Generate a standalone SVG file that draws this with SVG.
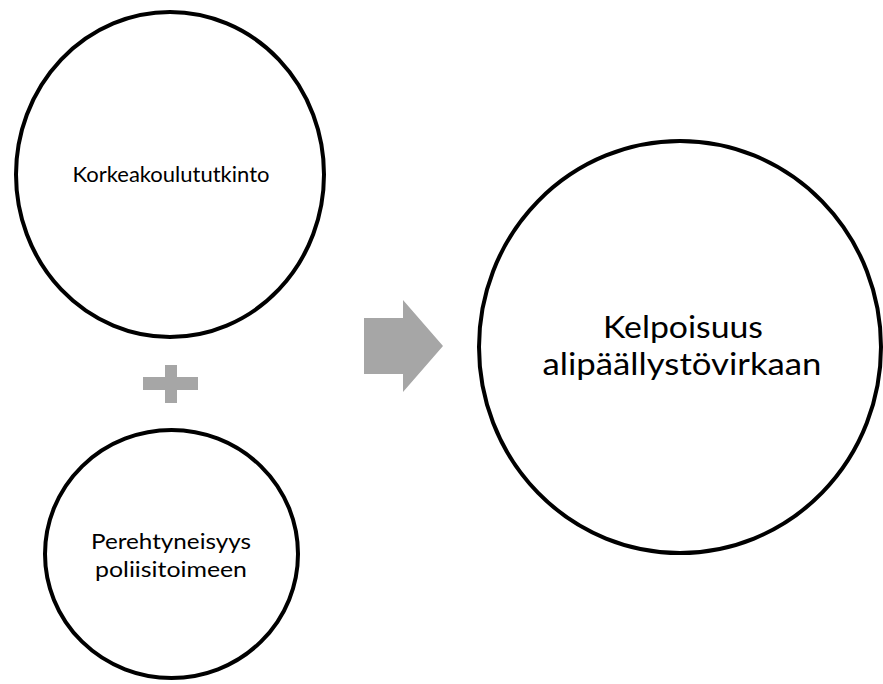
<svg xmlns="http://www.w3.org/2000/svg" width="883" height="684" viewBox="0 0 883 684">
  <style>
    .node { fill: #ffffff; stroke: #000000; stroke-width: 4; }
    .label { font-family: Lato, "Open Sans", "Liberation Sans", sans-serif; fill: #000000; text-anchor: middle; }
    .small { font-size: 22px; }
    .large { font-size: 31px; }
    .sym { fill: #a6a6a6; stroke: none; }
  </style>
  <rect width="883" height="684" fill="#ffffff"/>

  <g id="degree">
    <ellipse class="node" cx="170" cy="174.5" rx="154" ry="162.5"/>
    <text class="label small" x="171" y="181.5" textLength="197" lengthAdjust="spacingAndGlyphs">Korkeakoulututkinto</text>
  </g>

  <g id="familiarity">
    <ellipse class="node" cx="171.5" cy="554" rx="126.5" ry="124"/>
    <text class="label small" x="171" y="549" textLength="160" lengthAdjust="spacingAndGlyphs">Perehtyneisyys</text>
    <text class="label small" x="171" y="577" textLength="152" lengthAdjust="spacingAndGlyphs">poliisitoimeen</text>
  </g>

  <g id="qualification">
    <ellipse class="node" cx="680" cy="347" rx="201" ry="206"/>
    <text class="label large" x="683" y="337.5" textLength="160" lengthAdjust="spacingAndGlyphs">Kelpoisuus</text>
    <text class="label large" x="682" y="375" textLength="279" lengthAdjust="spacingAndGlyphs">alipäällystövirkaan</text>
  </g>

  <g id="connectors">
    <path id="plus" class="sym" d="M165 365 H177 V377 H198 V390 H177 V403 H165 V390 H143 V377 H165 Z"/>
    <polygon id="arrow" class="sym" points="364,318 403,318 403,300 443,346 403,392 403,374 364,374"/>
  </g>
</svg>
